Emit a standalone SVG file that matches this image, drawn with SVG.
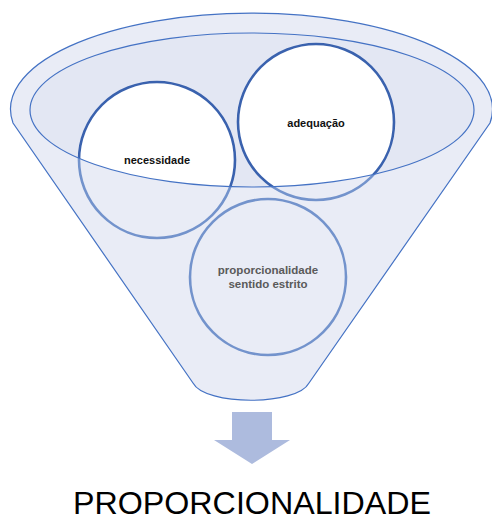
<svg xmlns="http://www.w3.org/2000/svg" width="492" height="521" viewBox="0 0 492 521">
<style>
.funnel{fill:#e9ecf6;stroke:#4472c4;stroke-width:1.2}
.inner{fill:#e3e7f3;stroke:none}
.rimline{fill:none;stroke:#4472c4;stroke-width:1.2}
.cTop{fill:#ffffff;stroke:#3a62ae;stroke-width:2.6}
.cLow{fill:#e9ecf6;stroke:#7393cc;stroke-width:2.6}
.lbl{font-family:"Liberation Sans",Arial,sans-serif;font-weight:bold;font-size:11px;text-anchor:middle;fill:#111111}
.lbl2{font-family:"Liberation Sans",Arial,sans-serif;font-weight:bold;font-size:11.5px;text-anchor:middle;fill:#5a5a5a}
.title{font-family:"Liberation Sans",Arial,sans-serif;font-size:31px;text-anchor:middle;fill:#000000}
</style>
<defs>
<clipPath id="inIn"><ellipse cx="252" cy="110" rx="222" ry="77"/></clipPath>
<clipPath id="inOut"><path clip-rule="evenodd" d="M0,0H492V521H0Z M30,110 A222,77 0 1,0 474,110 A222,77 0 1,0 30,110 Z"/></clipPath>
</defs>
<g id="funnel">
<path class="funnel" d="M13,123 A241,96 0 1,1 490,123 L309,383 C297,406 205,406 193,383 Z"/>
<ellipse class="inner" cx="252" cy="110" rx="222" ry="77"/>
</g>
<g id="necessidade">
<circle class="cLow" cx="157" cy="160" r="78" clip-path="url(#inOut)"/>
<circle class="cTop" cx="157" cy="160" r="78" clip-path="url(#inIn)"/>
</g>
<g id="adequacao">
<circle class="cLow" cx="316" cy="122" r="78" clip-path="url(#inOut)"/>
<circle class="cTop" cx="316" cy="122" r="78" clip-path="url(#inIn)"/>
</g>
<g id="proporcionalidade-sentido-estrito">
<circle class="cLow" cx="268" cy="277" r="78"/>
<text class="lbl2" x="268" y="274">proporcionalidade</text>
<text class="lbl2" x="268" y="288">sentido estrito</text>
</g>
<ellipse class="rimline" cx="252" cy="110" rx="222" ry="77"/>
<text class="lbl" x="157" y="164">necessidade</text>
<text class="lbl" x="316" y="127">adequação</text>
<g id="connectors">
<path d="M232,412 H272 V440 H290 L252,464 L214,440 H232 Z" fill="#adbbde"/>
</g>
<g id="result">
<text class="title" x="252" y="514" textLength="358" lengthAdjust="spacingAndGlyphs">PROPORCIONALIDADE</text>
</g>
</svg>
